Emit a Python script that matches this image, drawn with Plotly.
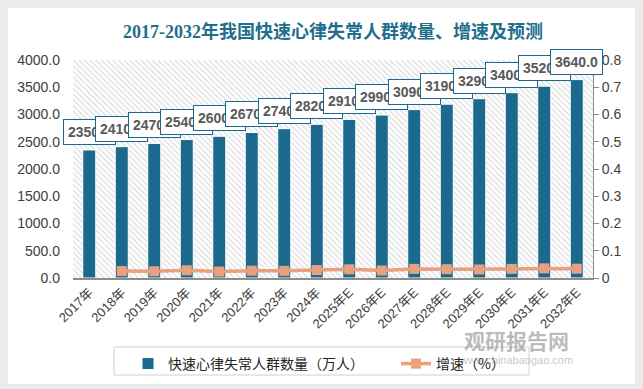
import plotly.graph_objects as go

categories = ["2017年", "2018年", "2019年", "2020年", "2021年", "2022年", "2023年", "2024年",
              "2025年E", "2026年E", "2027年E", "2028年E", "2029年E", "2030年E", "2031年E", "2032年E"]
patients = [2350, 2410, 2470, 2540, 2600, 2670, 2740, 2820,
            2910, 2990, 3090, 3190, 3290, 3400, 3520, 3640]
growth_cats = categories[1:]
growth = [0.0255, 0.0249, 0.0283, 0.0236, 0.0269, 0.0262, 0.0292,
          0.0319, 0.0275, 0.0334, 0.0324, 0.0313, 0.0334, 0.0353, 0.0341]
left_ticks = [0, 500, 1000, 1500, 2000, 2500, 3000, 3500, 4000]
right_ticks = [0, 0.1, 0.2, 0.3, 0.4, 0.5, 0.6, 0.7, 0.8]
right_ticktext = ["0", "0.1", "0.2", "0.3", "0.4", "0.5", "0.6", "0.7", "0.8"]
y_max = 4000

BAR = "#1B6A8E"
LINE = "#E9A07E"
TITLE = "#1F6E8C"

OFF = 8  # page body margin
W, H = 627, 376
# plot area in screen pixels: x 73..593, y 60..278
L, T = 73 - OFF, 60 - OFF
R = W - (593 - OFF)
B = H - (278 - OFF)
pw, ph = W - L - R, H - T - B

def px_x(sx):
    return (sx - OFF - L) / pw

def px_y(sy):
    return (H - B - (sy - OFF)) / ph

fig = go.Figure()

# hatched background
fig.add_trace(go.Bar(
    x=categories, y=[y_max] * len(categories), width=1,
    marker=dict(color="white", line=dict(width=0),
                pattern=dict(shape="\\", fgcolor="#b8b8b8", bgcolor="white", size=4, solidity=0.3)),
    showlegend=False, hoverinfo="skip"))

fig.add_trace(go.Bar(
    x=categories, y=patients, width=0.4, name="快速心律失常人群数量（万人）",
    marker=dict(color=BAR, line=dict(color="white", width=1)), legend="legend"))

fig.add_trace(go.Scatter(
    x=growth_cats, y=growth, yaxis="y2", mode="lines+markers", name="增速（%）",
    line=dict(color=LINE, width=3.5),
    marker=dict(symbol="square", size=10, color=LINE), legend="legend2"))

for c, v in zip(categories, patients):
    fig.add_annotation(
        x=c, y=v, xref="x", yref="y", text=f"{v:.1f}", showarrow=False,
        yanchor="bottom", yshift=5, bgcolor="white", bordercolor=BAR, borderwidth=1,
        borderpad=4, font=dict(family="Liberation Sans", size=14, color="#595959", weight="bold"))

# watermark
fig.add_annotation(x=px_x(516), y=px_y(340), xref="paper", yref="paper", text="<b>观研报告网</b>",
                   xanchor="center", yanchor="middle", showarrow=False,
                   font=dict(family="Noto Sans CJK SC", size=21, color="rgba(120,120,120,0.5)"))
fig.add_annotation(x=px_x(516), y=px_y(360), xref="paper", yref="paper", text="www.chinabaogao.com",
                   xanchor="center", yanchor="middle", showarrow=False,
                   font=dict(family="Liberation Sans", size=11, color="rgba(120,120,120,0.45)"))

shapes = [
    dict(type="rect", xref="paper", yref="paper", x0=px_x(114), x1=px_x(529), y0=px_y(375), y1=px_y(347),
         fillcolor="rgba(0,0,0,0)", line=dict(color="#d0d0d0", width=1)),
]

legend_font = dict(size=14, color="#262626", family="Noto Sans CJK SC")

fig.update_layout(
    width=W, height=H, margin=dict(l=L, r=R, t=T, b=B, autoexpand=False),
    paper_bgcolor="white", plot_bgcolor="white",
    barmode="overlay", shapes=shapes,
    font=dict(family="Liberation Sans, Noto Sans CJK SC", color="#404040"),
    title=dict(text="<b>2017-2032年我国快速心律失常人群数量、增速及预测</b>", x=0.5, xref="paper",
               y=1 - (32 - OFF) / H, yanchor="middle",
               font=dict(family="Liberation Serif, Noto Sans CJK SC", size=18, color=TITLE)),
    xaxis=dict(type="category", tickangle=-45, showline=True, linecolor="#8c8c8c", linewidth=1.5,
               ticks="", showgrid=False, tickfont=dict(size=13, color="#404040"),
               range=[-0.5, len(categories) - 0.5]),
    yaxis=dict(range=[0, y_max], tickvals=left_ticks, ticktext=[f"{t:.1f}" for t in left_ticks],
               showgrid=False, zeroline=False, showline=False, ticks="", ticklabelstandoff=12,
               tickfont=dict(size=14, color="#404040")),
    yaxis2=dict(range=[0, 0.8], overlaying="y", side="right", tickvals=right_ticks, ticktext=right_ticktext,
                showgrid=False, zeroline=False, showline=True, linecolor="#8c8c8c", linewidth=1,
                ticks="outside", ticklen=5, tickcolor="#8c8c8c", tickfont=dict(size=14, color="#404040")),
    legend=dict(orientation="h", x=px_x(128), y=px_y(348), xanchor="left", yanchor="top",
                bgcolor="rgba(0,0,0,0)", font=legend_font),
    legend2=dict(orientation="h", x=px_x(396), y=px_y(348), xanchor="left", yanchor="top",
                 bgcolor="rgba(0,0,0,0)", font=legend_font),
)

fig.write_html("out.html", post_script="document.body.style.background='#ebebeb';")
